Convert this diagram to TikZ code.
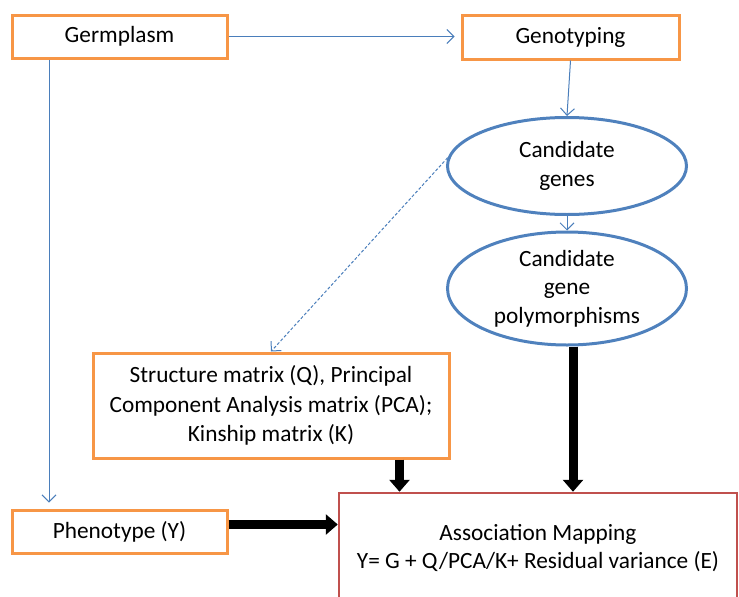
\documentclass[tikz,border=0pt]{standalone}
\usepackage{fontspec}
\setmainfont{Carlito}
\usetikzlibrary{arrows.meta,shapes.geometric,calc}
\definecolor{boxorange}{HTML}{F79646}
\definecolor{ovalblue}{HTML}{4F81BD}
\definecolor{linkblue}{HTML}{4A7EBB}
\definecolor{mapred}{HTML}{C0504D}
\begin{document}
\begin{tikzpicture}[x=1pt,y=-1pt,
  font=\fontsize{23.3}{28.5}\selectfont,
  obox/.style={draw=boxorange, line width=3pt, inner sep=0pt, align=center},
  oval/.style={ellipse, draw=ovalblue, line width=3pt, inner sep=0pt, align=center},
  thinlink/.style={draw=linkblue, line width=1pt, -{Straight Barb[length=7pt,width=14pt]}},
  bigarrow/.style={line width=9pt, -{Triangle[length=12pt,width=20pt]}}
]
\useasboundingbox (0,0) rectangle (739,597);
\clip (0,0) rectangle (739,597);

% boxes
\node[obox, minimum width=215, minimum height=43] (germ) at (119.5,36.5) {Germplasm};
\node[obox, minimum width=217, minimum height=44] (geno) at (570.5,37) {Genotyping};
\node[oval, minimum width=239, minimum height=97] (genes) at (567,166) {Candidate\\genes};
\node[oval, minimum width=239, minimum height=113] (poly) at (567,288.5) {Candidate\\gene\\polymorphisms};
\node[obox, minimum width=356, minimum height=105, font=\fontsize{23.3}{29.5}\selectfont] (struct) at (271,405.5)
  {Structure matrix (Q), Principal\\Component Analysis matrix (PCA);\\Kinship matrix (K)};
\node[obox, minimum width=215, minimum height=43] (pheno) at (119.5,531.5) {Phenotype (Y)};
\node[draw=mapred, line width=2.5pt, inner sep=0pt, align=center,
      minimum width=398, minimum height=110] (assoc) at (538,548)
  {Association Mapping\\Y= G + Q/PCA/K+ Residual variance (E)};

% thin connectors
\draw[thinlink, shorten >=6pt] (germ.east) -- (germ.east -| geno.west);
\draw[thinlink, shorten >=6pt] (germ.south -| 49,0) -- (pheno.north -| 49,0);
\draw[thinlink] (geno.south) -- (genes.north);
\draw[thinlink] (genes.south) -- (poly.north);
\draw[thinlink, dash pattern=on 3pt off 2pt] (genes.176) -- (struct.north);

% heavy connectors
\draw[bigarrow] ([xshift=6]poly.south) -- ([xshift=6]poly.south |- assoc.north);
\draw[bigarrow] ([xshift=-51]struct.south east) -- ([xshift=-51]struct.south east |- assoc.north);
\draw[bigarrow] ([yshift=7]pheno.east) -- ([yshift=7]pheno.east -| assoc.west);
\end{tikzpicture}
\end{document}
